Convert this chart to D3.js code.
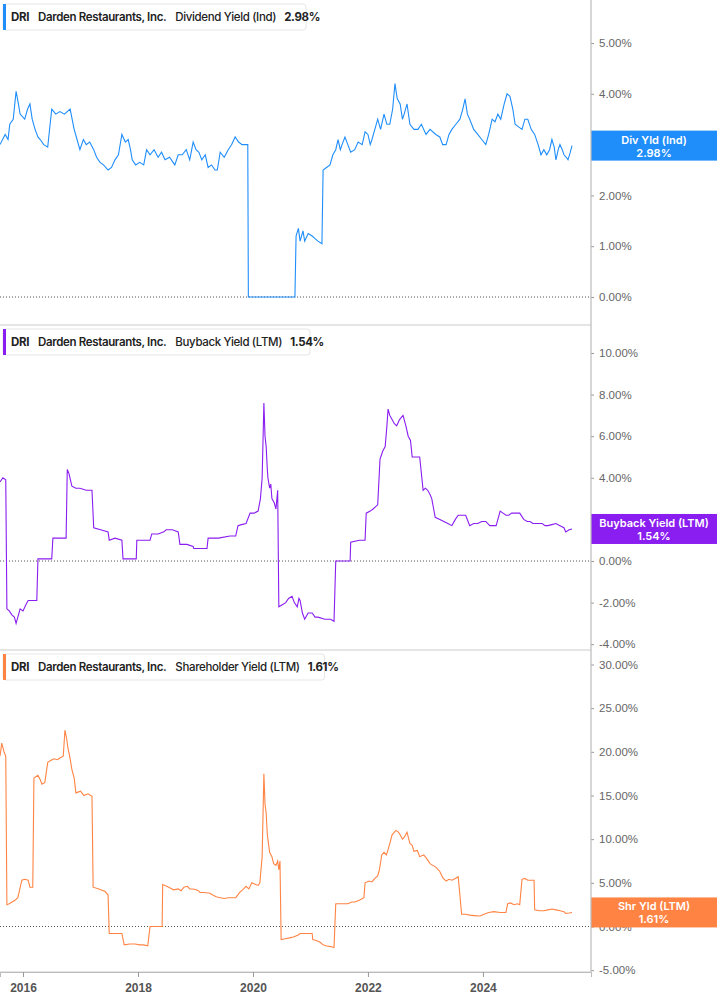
<!DOCTYPE html>
<html><head><meta charset="utf-8">
<script src="https://cdn.jsdelivr.net/npm/d3@7"></script>
<style>body{margin:0;background:#fff}svg{display:block;font-family:Inter,"Noto Sans",sans-serif}</style>
</head><body><svg id="c" width="717" height="1005"></svg>
<script>
// [years since 2000, value %]
const divYield=[[15.60,3.0],[15.69,3.2],[15.74,3.1],[15.77,3.4],[15.83,3.5],[15.88,4.05],[15.92,3.8],[15.95,3.6],[16.03,3.5],[16.08,3.7],[16.12,3.8],[16.16,3.5],[16.21,3.3],[16.26,3.15],[16.30,3.1],[16.36,3.0],[16.43,2.95],[16.50,3.7],[16.57,3.6],[16.64,3.65],[16.72,3.6],[16.82,3.7],[16.89,3.3],[16.94,3.1],[16.99,2.9],[17.05,3.1],[17.10,3.0],[17.16,3.05],[17.23,2.9],[17.28,2.75],[17.34,2.65],[17.40,2.6],[17.48,2.5],[17.54,2.55],[17.60,2.7],[17.66,2.8],[17.72,3.2],[17.78,3.05],[17.83,3.1],[17.87,2.9],[17.90,2.7],[17.96,2.6],[18.03,2.65],[18.10,2.6],[18.15,2.9],[18.21,2.8],[18.28,2.9],[18.35,2.75],[18.41,2.85],[18.47,2.7],[18.55,2.75],[18.64,2.6],[18.70,2.8],[18.77,2.8],[18.84,2.9],[18.90,2.7],[18.96,3.05],[19.01,2.9],[19.06,2.85],[19.11,2.7],[19.17,2.8],[19.22,2.55],[19.28,2.6],[19.34,2.5],[19.38,2.5],[19.43,2.85],[19.50,2.75],[19.57,2.9],[19.63,3.0],[19.69,3.15],[19.75,3.05],[19.81,3.0],[19.91,3.0],[19.92,0],[20.73,0],[20.75,1.2],[20.79,1.35],[20.82,1.1],[20.87,1.3],[20.90,1.1],[20.96,1.25],[21.03,1.2],[21.08,1.15],[21.13,1.1],[21.20,1.05],[21.22,2.5],[21.28,2.55],[21.34,2.6],[21.39,2.8],[21.44,2.9],[21.48,3.1],[21.52,2.9],[21.55,3.0],[21.60,3.15],[21.65,3.0],[21.70,2.85],[21.77,2.9],[21.83,3.05],[21.90,3.0],[21.95,3.25],[22.00,3.2],[22.04,3.0],[22.07,3.1],[22.12,3.3],[22.17,3.5],[22.22,3.3],[22.28,3.6],[22.33,3.4],[22.38,3.4],[22.43,3.7],[22.47,4.2],[22.51,3.9],[22.56,3.8],[22.60,3.5],[22.63,3.6],[22.68,3.8],[22.73,3.4],[22.80,3.3],[22.87,3.3],[22.93,3.4],[23.01,3.2],[23.08,3.3],[23.18,3.2],[23.25,3.15],[23.30,3.0],[23.36,3.0],[23.41,3.2],[23.46,3.3],[23.53,3.4],[23.60,3.5],[23.65,3.7],[23.69,3.9],[23.73,3.6],[23.77,3.5],[23.84,3.3],[23.91,3.2],[23.98,3.1],[24.05,3.0],[24.10,3.2],[24.16,3.5],[24.21,3.45],[24.26,3.6],[24.31,3.5],[24.37,3.8],[24.42,4.0],[24.47,3.95],[24.52,3.7],[24.56,3.4],[24.62,3.35],[24.68,3.3],[24.73,3.5],[24.78,3.5],[24.84,3.3],[24.90,3.2],[24.96,3.0],[25.01,2.8],[25.06,2.9],[25.11,2.8],[25.16,2.9],[25.20,3.1],[25.24,2.95],[25.27,2.7],[25.31,2.9],[25.34,3.0],[25.38,2.9],[25.41,2.8],[25.45,2.75],[25.48,2.7],[25.52,2.85],[25.55,2.98]];
const buyback=[[15.60,3.8],[15.65,4.0],[15.70,3.9],[15.72,-2.3],[15.76,-2.4],[15.81,-2.6],[15.85,-2.7],[15.88,-3.0],[15.92,-2.6],[15.95,-2.3],[16.00,-2.4],[16.05,-2.1],[16.09,-1.9],[16.24,-1.9],[16.26,0.1],[16.50,0.1],[16.52,1.1],[16.75,1.1],[16.77,4.4],[16.80,4.2],[16.85,3.6],[16.92,3.5],[16.99,3.5],[17.10,3.4],[17.20,3.4],[17.23,1.6],[17.35,1.5],[17.48,1.4],[17.50,1.0],[17.60,1.1],[17.72,1.0],[17.74,0.1],[17.97,0.1],[17.98,1.0],[18.10,1.0],[18.21,1.0],[18.24,1.3],[18.35,1.3],[18.45,1.4],[18.49,1.5],[18.60,1.5],[18.70,1.4],[18.73,0.8],[18.85,0.8],[18.96,0.7],[18.97,0.6],[19.10,0.6],[19.20,0.6],[19.22,1.1],[19.40,1.1],[19.60,1.2],[19.70,1.2],[19.74,1.7],[19.80,1.75],[19.88,1.8],[19.95,2.3],[20.02,2.3],[20.09,2.4],[20.13,3.0],[20.16,4.0],[20.19,7.6],[20.21,6.0],[20.23,5.5],[20.25,4.4],[20.26,4.0],[20.29,3.5],[20.31,3.7],[20.33,3.0],[20.37,2.8],[20.40,2.5],[20.43,3.4],[20.45,-2.2],[20.51,-2.1],[20.57,-2.0],[20.62,-1.8],[20.68,-1.7],[20.72,-2.0],[20.77,-2.2],[20.80,-1.8],[20.82,-1.9],[20.86,-2.5],[20.90,-2.8],[20.96,-2.5],[21.03,-2.5],[21.08,-2.7],[21.13,-2.7],[21.25,-2.8],[21.35,-2.8],[21.41,-2.9],[21.44,0.0],[21.69,0.0],[21.70,0.9],[21.85,1.0],[21.95,1.0],[21.97,2.3],[22.04,2.4],[22.09,2.5],[22.13,2.6],[22.17,2.7],[22.19,3.8],[22.21,4.9],[22.26,5.3],[22.30,5.5],[22.33,6.5],[22.35,7.3],[22.38,7.0],[22.42,6.8],[22.46,6.6],[22.50,6.5],[22.55,6.8],[22.61,7.0],[22.66,6.5],[22.70,6.0],[22.74,5.8],[22.77,5.0],[22.84,5.0],[22.90,5.0],[22.96,3.4],[23.00,3.5],[23.04,3.4],[23.08,3.2],[23.11,3.0],[23.17,2.1],[23.25,2.0],[23.32,1.9],[23.39,1.8],[23.46,1.7],[23.52,2.0],[23.57,2.2],[23.63,2.2],[23.70,2.2],[23.77,1.7],[23.84,1.8],[23.91,1.8],[23.98,1.9],[24.05,1.9],[24.12,1.7],[24.23,1.7],[24.30,2.4],[24.35,2.3],[24.40,2.2],[24.45,2.2],[24.50,2.3],[24.57,2.3],[24.64,2.3],[24.71,2.0],[24.77,1.9],[24.82,1.9],[24.87,1.8],[24.92,1.8],[24.97,1.8],[25.03,1.8],[25.08,1.7],[25.13,1.7],[25.20,1.75],[25.27,1.8],[25.34,1.7],[25.41,1.6],[25.44,1.4],[25.50,1.5],[25.55,1.54]];
const shareholder=[[15.60,19.5],[15.63,21.0],[15.67,20.0],[15.70,19.5],[15.72,2.5],[15.76,2.6],[15.81,2.8],[15.86,3.0],[15.91,3.3],[15.98,5.3],[16.03,5.4],[16.09,5.3],[16.12,4.5],[16.17,4.5],[16.19,17.0],[16.26,17.3],[16.30,16.8],[16.33,16.3],[16.38,16.5],[16.43,18.8],[16.48,19.0],[16.54,19.2],[16.60,19.1],[16.64,19.3],[16.70,19.5],[16.73,22.5],[16.76,21.5],[16.78,20.5],[16.82,19.2],[16.85,18.0],[16.89,17.0],[16.92,15.3],[17.00,15.5],[17.06,15.0],[17.13,15.2],[17.20,14.9],[17.22,4.5],[17.32,4.3],[17.43,4.0],[17.48,3.6],[17.50,-0.8],[17.62,-0.8],[17.72,-0.8],[17.76,-2.1],[17.86,-2.0],[17.95,-2.0],[18.03,-2.1],[18.10,-2.1],[18.17,-2.2],[18.21,0.0],[18.30,0.0],[18.42,0.0],[18.43,4.8],[18.50,4.6],[18.56,4.4],[18.62,4.2],[18.70,4.3],[18.75,4.1],[18.80,4.5],[18.86,4.6],[18.90,4.3],[18.96,4.3],[19.01,4.2],[19.05,4.1],[19.08,3.9],[19.15,3.9],[19.25,3.8],[19.30,3.6],[19.36,3.4],[19.43,3.3],[19.50,3.2],[19.57,3.3],[19.70,3.3],[19.77,3.9],[19.82,4.2],[19.88,4.6],[19.93,4.3],[19.98,5.0],[20.05,4.8],[20.09,4.7],[20.12,5.0],[20.16,8.0],[20.19,17.5],[20.21,14.0],[20.23,13.0],[20.25,10.5],[20.26,10.0],[20.29,8.5],[20.33,8.0],[20.36,7.2],[20.40,7.0],[20.43,7.5],[20.45,6.5],[20.47,7.5],[20.49,-1.5],[20.56,-1.4],[20.64,-1.3],[20.70,-1.2],[20.78,-1.0],[20.82,-0.8],[20.92,-0.8],[21.03,-0.8],[21.04,-1.5],[21.10,-1.6],[21.17,-1.8],[21.22,-2.1],[21.27,-2.2],[21.35,-2.3],[21.41,-2.4],[21.44,2.6],[21.55,2.6],[21.65,2.6],[21.72,2.8],[21.77,2.8],[21.85,3.0],[21.93,3.3],[21.95,5.0],[22.02,5.2],[22.07,5.1],[22.12,5.5],[22.17,5.8],[22.20,6.5],[22.24,8.2],[22.28,8.5],[22.32,8.2],[22.35,8.8],[22.38,9.5],[22.42,10.5],[22.46,10.8],[22.49,11.0],[22.53,10.8],[22.56,10.5],[22.60,10.0],[22.63,10.2],[22.68,10.8],[22.73,9.5],[22.77,9.3],[22.80,8.6],[22.86,8.7],[22.90,8.0],[22.97,8.2],[23.02,7.8],[23.08,7.2],[23.13,7.0],[23.18,6.8],[23.25,6.3],[23.30,5.6],[23.36,5.2],[23.41,5.4],[23.46,5.3],[23.52,5.5],[23.57,5.7],[23.63,1.4],[23.70,1.4],[23.77,1.3],[23.85,1.25],[23.95,1.2],[24.02,1.4],[24.10,1.6],[24.19,1.7],[24.30,1.6],[24.40,1.6],[24.43,2.6],[24.48,2.7],[24.54,2.5],[24.60,2.6],[24.64,2.5],[24.68,5.4],[24.73,5.5],[24.78,5.3],[24.84,5.3],[24.89,5.3],[24.90,1.9],[24.98,1.8],[25.06,1.8],[25.13,1.9],[25.20,2.0],[25.27,1.9],[25.34,1.8],[25.41,1.7],[25.44,1.5],[25.50,1.55],[25.55,1.61]];
const yearTicks=[2016,2018,2020,2022,2024];
const divTicks=[0,1,2,3,4,5], buyTicks=[-4,-2,0,2,4,6,8,10], shrTicks=[-5,0,5,10,15,20,25,30];

const panels=[
 {data:divYield,ticks:divTicks,top:0,bottom:325,color:"#1f8efa",legend:["DRI","Darden Restaurants, Inc.","Dividend Yield (Ind)","2.98%"],tag:["Div Yld (Ind)","2.98%"]},
 {data:buyback,ticks:buyTicks,top:325,bottom:650,color:"#8a1df0",legend:["DRI","Darden Restaurants, Inc.","Buyback Yield (LTM)","1.54%"],tag:["Buyback Yield (LTM)","1.54%"]},
 {data:shareholder,ticks:shrTicks,top:650,bottom:972,color:"#ff8444",legend:["DRI","Darden Restaurants, Inc.","Shareholder Yield (LTM)","1.61%"],tag:["Shr Yld (LTM)","1.61%"]}
];
const svg=d3.select("#c");
const x=d3.scaleLinear().domain([2015.6,2025.88]).range([0,591]);
const yScales=[
 d3.scaleLinear().domain([0,5]).range([297,43]),
 d3.scaleLinear().domain([0,10]).range([561,353]),
 d3.scaleLinear().domain([0,30]).range([926.5,664.5])
];
panels.forEach((p,i)=>{
  const y=yScales[i];
  const g=svg.append("g");
  g.append("line").attr("x1",0).attr("x2",591).attr("y1",y(0)).attr("y2",y(0))
   .attr("stroke","#555").attr("stroke-dasharray","1,2").attr("stroke-width",1);
  const last=p.data[p.data.length-1];
  const ty=y(last[1]);
  const ax=g.append("g").attr("transform","translate(591,0)")
   .call(d3.axisRight(y).tickValues(p.ticks).tickSize(3).tickPadding(5).tickFormat(d=>d.toFixed(2)+"%"));
  ax.select(".domain").remove();
  ax.selectAll("line").attr("stroke","#999");
  ax.selectAll("text").attr("fill","#666").attr("font-size",11.5);
  g.append("path").datum(p.data).attr("fill","none").attr("stroke",p.color).attr("stroke-width",1.1)
   .attr("d",d3.line().x(d=>x(2000+d[0])).y(d=>y(d[1])));
  g.append("line").attr("x1",0).attr("x2",591).attr("y1",p.bottom).attr("y2",p.bottom).attr("stroke","#ccc").attr("stroke-width",1.2);
  const lg=g.append("g").attr("transform",`translate(3,${p.top+4})`);
  const txt=lg.append("text").attr("x",8).attr("y",17).attr("font-size",11.5).attr("letter-spacing",-0.35).attr("fill","#222");
  const parts=[[p.legend[0],700,0],[p.legend[1],600,9],[p.legend[2],500,9],[p.legend[3],700,8]];
  parts.forEach(([t,w,dx])=>txt.append("tspan").attr("dx",dx).attr("font-weight",w).text(t));
  const wdt=txt.node().getComputedTextLength()+20;
  lg.insert("rect","text").attr("width",wdt).attr("height",26).attr("rx",3).attr("fill","#fff").attr("stroke","#e6e6e6");
  lg.insert("rect","text").attr("width",3).attr("height",26).attr("fill",p.color);
  const tg=g.append("g").attr("transform",`translate(591,${ty})`);
  tg.append("rect").attr("x",0).attr("y",-15).attr("width",126).attr("height",30).attr("fill",p.color);
  tg.append("text").attr("x",63).attr("y",-2).attr("text-anchor","middle").attr("fill","#fff").attr("font-size",11).attr("font-weight",600).text(p.tag[0]);
  tg.append("text").attr("x",63).attr("y",11).attr("text-anchor","middle").attr("fill","#fff").attr("font-size",11).attr("font-weight",600).text(p.tag[1]);
});
svg.append("line").attr("x1",591).attr("x2",591).attr("y1",0).attr("y2",972).attr("stroke","#bbb").attr("stroke-width",1.2);
const xa=svg.append("g").attr("transform","translate(0,972)")
 .call(d3.axisBottom(x).tickValues(yearTicks).tickSize(5).tickPadding(6).tickFormat(d3.format("d")));
xa.select(".domain").attr("stroke","#bbb");
xa.selectAll("line").attr("stroke","#999");
xa.selectAll("text").attr("fill","#555").attr("font-size",12).attr("font-weight",600);
</script></body></html>
